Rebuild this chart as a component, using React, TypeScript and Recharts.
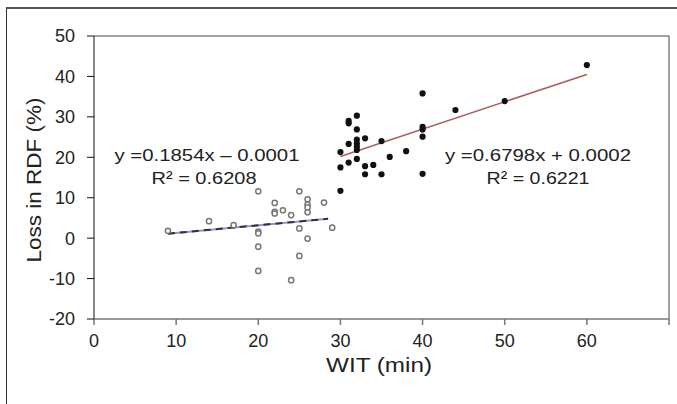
import { ScatterChart, Scatter, XAxis, YAxis, ReferenceLine } from 'recharts';

// WIT (min) vs loss in RDF (%), two groups
const groupLowX = [9, 14, 17, 20, 20, 20, 20, 20, 22, 22, 22, 23, 24, 24, 25, 25, 25, 26, 26, 26, 26, 26, 28, 29];
const groupLowY = [1.8, 4.2, 3.2, 11.6, 1.6, 1.2, -2.1, -8.1, 8.7, 6.5, 6.1, 6.9, 5.7, -10.4, 11.6, 2.4, -4.4, 9.6, 8.3, 7.6, 6.4, -0.1, 8.8, 2.6];

const groupHighX = [30, 30, 30, 31, 31, 31, 31, 32, 32, 32, 32, 32, 32, 32, 33, 33, 33, 34, 35, 35, 36, 38, 40, 40, 40, 40, 40, 44, 50, 60];
const groupHighY = [21.3, 17.5, 11.7, 29, 28.4, 23.3, 18.7, 30.3, 26.9, 24.4, 23.4, 22.6, 21.8, 19.6, 24.7, 17.8, 15.8, 18.1, 24, 15.8, 20.1, 21.5, 35.8, 27.5, 26.9, 25.1, 15.9, 31.7, 33.9, 42.8];

// fitted trend line end points
const trendLow = [{ x: 9, y: 1.1 }, { x: 28.5, y: 4.8 }];
const trendHigh = [{ x: 30, y: 20.2 }, { x: 60, y: 40.5 }];

const xTicks = [0, 10, 20, 30, 40, 50, 60, 70];
const yTicks = [-20, -10, 0, 10, 20, 30, 40, 50];

const lowData = groupLowX.map((x, i) => ({ x, y: groupLowY[i] }));
const highData = groupHighX.map((x, i) => ({ x, y: groupHighY[i] }));

const font = '"Liberation Sans", Arial, sans-serif';

const OpenDot = (p: any) => <circle cx={p.cx} cy={p.cy} r={2.6} fill="#fff" stroke="#777" strokeWidth={1.5} />;
const FilledDot = (p: any) => <circle cx={p.cx} cy={p.cy} r={3.1} fill="#111" />;

export default function App() {
  return (
    <div style={{ position: 'absolute', left: 0, top: 0, width: 677, height: 404, background: '#fff', fontFamily: font }}>
      <div style={{ position: 'absolute', left: 6, top: 7, width: 671, height: 397, borderTop: '2px solid #555', borderLeft: '1.5px solid #333' }} />
      <ScatterChart width={677} height={404} margin={{ top: 36, right: 8, bottom: 0, left: 0 }}>
        <XAxis
          type="number"
          dataKey="x"
          domain={[0, 70]}
          ticks={xTicks}
          tickFormatter={(v: number) => (v === 70 ? '' : String(v))}
          height={85}
          stroke="#777"
          strokeWidth={1.5}
          tickSize={6}
          tickMargin={9}
          tick={{ fill: '#222', fontSize: 18, fontFamily: font }}
        />
        <YAxis
          type="number"
          dataKey="y"
          domain={[-20, 50]}
          ticks={yTicks}
          width={94}
          stroke="#111"
          tickSize={7}
          tickMargin={12}
          tick={{ fill: '#222', fontSize: 18, fontFamily: font }}
        />
        <ReferenceLine y={50} stroke="#444" />
        <ReferenceLine x={70} stroke="#444" />
        <ReferenceLine segment={trendLow} stroke="#8e96d8" strokeWidth={2} />
        <ReferenceLine segment={trendLow} stroke="#333" strokeWidth={2} strokeDasharray="7 5" />
        <ReferenceLine segment={trendHigh} stroke="#a2615c" strokeWidth={1.6} />
        <Scatter data={lowData} shape={OpenDot} isAnimationActive={false} />
        <Scatter data={highData} shape={FilledDot} isAnimationActive={false} />
      </ScatterChart>
      <svg width={677} height={404} style={{ position: 'absolute', left: 0, top: 0, pointerEvents: 'none' }}>
        <g fontFamily={font} fill="#222">
          <text x={207} y={161} fontSize={17} textAnchor="middle" textLength={185} lengthAdjust="spacingAndGlyphs">y =0.1854x – 0.0001</text>
          <text x={204} y={184} fontSize={17} textAnchor="middle" textLength={105} lengthAdjust="spacingAndGlyphs">R² = 0.6208</text>
          <text x={538} y={161} fontSize={17} textAnchor="middle" textLength={186} lengthAdjust="spacingAndGlyphs">y =0.6798x + 0.0002</text>
          <text x={538} y={184} fontSize={17} textAnchor="middle" textLength={103} lengthAdjust="spacingAndGlyphs">R² = 0.6221</text>
          <text x={379} y={372} fontSize={20} textAnchor="middle" textLength={106} lengthAdjust="spacingAndGlyphs">WIT (min)</text>
          <text x={41} y={180} fontSize={20} textAnchor="middle" transform="rotate(-90 41 180)" textLength={165} lengthAdjust="spacingAndGlyphs">Loss in RDF (%)</text>
        </g>
      </svg>
    </div>
  );
}
